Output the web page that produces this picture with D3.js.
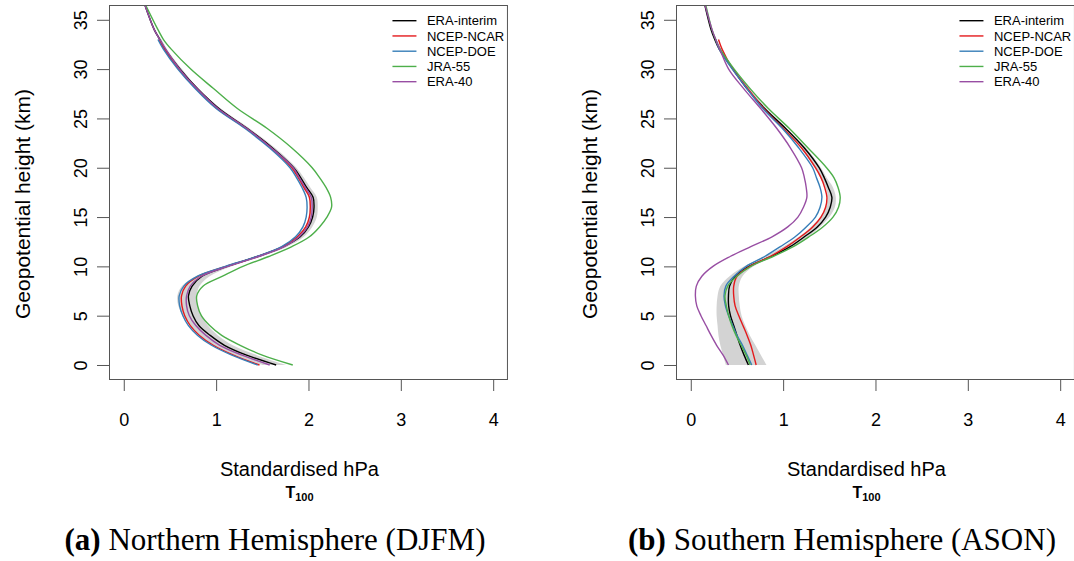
<!DOCTYPE html>
<html><head><meta charset="utf-8">
<script src="https://cdn.jsdelivr.net/npm/d3@7"></script>
<style>body{margin:0;background:#fff;} svg{display:block;}</style>
</head><body>
<svg id="c" width="1074" height="561"></svg>
<script>
// ---- data ----
const heights = [0,1,2,3,4,5,6,7,8,9,10,11,12,13,14,15,16,17,18,19,20,22,24,26,28,30,32,33,34,37];
const seriesNames = ["ERA-interim","NCEP-NCAR","NCEP-DOE","JRA-55","ERA-40"];
const seriesColors = ["#000000","#E41A1C","#377EB8","#4DAF4A","#984EA3"];
const xTicks = [0,1,2,3,4];
const yTicks = [0,5,10,15,20,25,30,35];

// Northern Hemisphere (DJFM)
const nhEraInterim = [1.65,1.33,1.09,0.936,0.813,0.75,0.715,0.70,0.74,0.847,1.12,1.45,1.73,1.91,2.00,2.045,2.06,2.05,1.98,1.915,1.84,1.61,1.335,1.03,0.80,0.61,0.45,0.39,0.33,0.21];
const nhNcepNcar  = [1.47,1.19,0.97,0.82,0.72,0.66,0.63,0.625,0.67,0.81,1.11,1.45,1.72,1.88,1.97,2.01,2.02,2.01,1.95,1.89,1.82,1.595,1.32,1.01,0.785,0.595,0.44,0.38,null,null];
const nhNcepDoe   = [1.45,1.17,0.95,0.80,0.70,0.64,0.605,0.60,0.65,0.80,1.10,1.44,1.71,1.86,1.94,1.975,1.985,1.975,1.93,1.87,1.80,1.58,1.31,1.00,0.775,0.585,0.43,0.37,null,null];
const nhJra55     = [1.83,1.50,1.26,1.06,0.93,0.84,0.80,0.79,0.86,1.07,1.29,1.57,1.82,2.01,2.12,2.20,2.25,2.24,2.19,2.12,2.04,1.82,1.55,1.23,0.975,0.725,0.516,0.43,0.37,0.21];
const nhEra40     = [1.58,1.28,1.04,0.89,0.78,0.71,0.68,0.68,0.72,0.84,1.13,1.46,1.74,1.90,1.99,2.03,2.04,2.03,1.965,1.90,1.835,1.60,1.33,1.02,0.795,0.605,0.455,0.39,0.33,0.21];
const nhBandLow   = [1.50,1.21,0.98,0.83,0.72,0.64,0.59,0.58,0.63,0.78,1.08,1.42,1.70,1.87,1.96,2.00,2.01,2.00,1.94,1.875,1.81,1.58,1.31,1.00,0.775,0.59,0.44,0.38,0.32,0.20];
const nhBandHigh  = [1.76,1.44,1.18,1.02,0.91,0.84,0.80,0.79,0.82,0.93,1.17,1.49,1.77,1.95,2.04,2.09,2.10,2.09,2.02,1.95,1.87,1.64,1.36,1.05,0.81,0.63,0.47,0.41,0.34,0.22];

// Southern Hemisphere (ASON)
const shEraInterim = [0.624,0.577,0.535,0.50,0.465,0.43,0.41,0.408,0.42,0.48,0.63,0.87,1.076,1.23,1.37,1.46,1.51,1.528,1.49,1.445,1.39,1.23,1.025,0.80,0.61,0.457,0.31,0.26,0.22,0.14];
const shNcepNcar  = [0.708,0.68,0.65,0.61,0.565,0.52,0.48,0.465,0.465,0.50,0.64,0.86,1.04,1.19,1.32,1.41,1.46,1.474,1.45,1.41,1.35,1.20,1.00,0.79,0.62,0.455,0.34,0.30,null,null];
const shNcepDoe   = [0.66,0.61,0.56,0.50,0.455,0.41,0.375,0.36,0.38,0.47,0.60,0.80,0.97,1.13,1.25,1.35,1.40,1.42,1.40,1.36,1.32,1.17,0.99,0.78,0.61,0.45,0.31,0.27,null,null];
const shJra55     = [0.643,0.60,0.545,0.49,0.445,0.41,0.385,0.37,0.40,0.50,0.65,0.89,1.11,1.28,1.43,1.54,1.60,1.618,1.595,1.55,1.47,1.27,1.065,0.84,0.645,0.47,0.32,0.27,0.23,0.15];
const shEra40     = [0.408,0.35,0.28,0.22,0.165,0.11,0.065,0.05,0.06,0.12,0.24,0.426,0.65,0.88,1.05,1.16,1.22,1.257,1.25,1.23,1.20,1.08,0.93,0.757,0.575,0.41,0.315,0.27,0.23,0.14];
const shBandLow   = [0.38,0.35,0.32,0.30,0.29,0.28,0.28,0.29,0.32,0.42,0.58,0.80,1.00,1.17,1.30,1.40,1.46,1.48,1.46,1.40,1.34,1.19,0.99,0.78,0.61,0.44,0.30,0.25,0.21,0.13];
const shBandHigh  = [0.82,0.76,0.70,0.64,0.59,0.55,0.53,0.52,0.52,0.56,0.68,0.90,1.10,1.27,1.40,1.50,1.56,1.57,1.54,1.47,1.41,1.25,1.04,0.82,0.64,0.47,0.33,0.28,0.23,0.15];

const panels = [
  {id:"nh", left:109, series:[nhEraInterim,nhNcepNcar,nhNcepDoe,nhJra55,nhEra40], low:nhBandLow, high:nhBandHigh,
   caption:["(a)"," Northern Hemisphere (DJFM)"], capX:275},
  {id:"sh", left:676, series:[shEraInterim,shNcepNcar,shNcepDoe,shJra55,shEra40], low:shBandLow, high:shBandHigh,
   caption:["(b)"," Southern Hemisphere (ASON)"], capX:842}
];

const svg = d3.select("#c");
const plotTop = 5, plotBottom = 379, unit = 92.35;
const axisColor = "#555";

panels.forEach(p => {
  const x = d3.scaleLinear().domain([-0.16, 4.16]).range([p.left, p.left + 4.32*unit]);
  const y = d3.scaleLinear().domain([-1.42, 36.5]).range([plotBottom, plotTop]);
  const g = svg.append("g");

  const clipId = "clip-" + p.id;
  svg.append("clipPath").attr("id", clipId).append("rect")
    .attr("x", x.range()[0]).attr("y", plotTop).attr("width", x.range()[1]-x.range()[0]).attr("height", plotBottom-plotTop);

  const plot = g.append("g").attr("clip-path", `url(#${clipId})`);

  // band
  const area = d3.area()
    .y((d,i) => y(heights[i]))
    .x0((d,i) => x(p.low[i]))
    .x1((d,i) => x(p.high[i]))
    .curve(d3.curveCatmullRom);
  plot.append("path").datum(heights).attr("d", area).attr("fill", "#d3d3d3").attr("stroke", "none");

  // lines
  p.series.forEach((s, k) => {
    const line = d3.line()
      .defined(d => d != null)
      .x(d => x(d))
      .y((d,i) => y(heights[i]))
      .curve(d3.curveCatmullRom);
    plot.append("path").datum(s).attr("d", line)
      .attr("fill", "none").attr("stroke", seriesColors[k]).attr("stroke-width", 1.4)
      .attr("stroke-linejoin", "round");
  });

  // box
  g.append("rect").attr("x", x.range()[0]+0.5).attr("y", plotTop+0.5)
    .attr("width", x.range()[1]-x.range()[0]-1).attr("height", plotBottom-plotTop)
    .attr("fill", "none").attr("stroke", axisColor).attr("stroke-width", 1);

  // x axis
  const xa = g.append("g").attr("transform", `translate(0,${plotBottom})`)
    .call(d3.axisBottom(x).tickValues(xTicks).tickSize(12).tickFormat(d3.format("d")).tickPadding(22));
  xa.select(".domain").remove();
  xa.selectAll("line").attr("stroke", axisColor);
  xa.selectAll("text").attr("font-family", "Liberation Sans, Arial, sans-serif").attr("font-size", 18).attr("fill", "#000");

  // y axis
  const ya = g.append("g").attr("transform", `translate(${p.left},0)`)
    .call(d3.axisLeft(y).tickValues(yTicks).tickSize(12).tickFormat(d3.format("d")));
  ya.select(".domain").remove();
  ya.selectAll("line").attr("stroke", axisColor);
  ya.selectAll("text").remove();
  ya.selectAll(".tick").append("text")
    .attr("transform", "translate(-28,0) rotate(-90)")
    .attr("text-anchor", "middle").attr("dy", "0.35em")
    .attr("font-family", "Liberation Sans, Arial, sans-serif").attr("font-size", 18).attr("fill", "#000")
    .text(d => d);

  // y title
  g.append("text").attr("transform", `translate(${p.left-86},204) rotate(-90)`)
    .attr("text-anchor", "middle").attr("dy", "0.35em")
    .attr("font-family", "Liberation Sans, Arial, sans-serif").attr("font-size", 21).attr("fill", "#000")
    .text("Geopotential height (km)");

  // x title
  const cx = x(2) - 9;
  g.append("text").attr("x", cx).attr("y", 476).attr("text-anchor", "middle")
    .attr("font-family", "Liberation Sans, Arial, sans-serif").attr("font-size", 20).attr("fill", "#000")
    .text("Standardised hPa");
  const t = g.append("text").attr("x", cx).attr("y", 498).attr("text-anchor", "middle")
    .attr("font-family", "Liberation Sans, Arial, sans-serif").attr("font-weight", "bold").attr("fill", "#000");
  t.append("tspan").attr("font-size", 16).text("T");
  t.append("tspan").attr("font-size", 11).attr("dy", 3).text("100");

  // legend
  const lx = x.range()[1] - 115.5;
  seriesNames.forEach((n, k) => {
    const ly = 20.7 + k*15.25;
    g.append("line").attr("x1", lx).attr("x2", lx+24).attr("y1", ly).attr("y2", ly)
      .attr("stroke", seriesColors[k]).attr("stroke-width", 1.4);
    g.append("text").attr("x", lx+34.5).attr("y", ly).attr("dy", "0.35em")
      .attr("font-family", "Liberation Sans, Arial, sans-serif").attr("font-size", 13).attr("fill", "#000")
      .text(n);
  });

  // caption
  const c = svg.append("text").attr("x", p.capX).attr("y", 550).attr("text-anchor", "middle")
    .attr("font-family", "Liberation Serif, Times New Roman, serif").attr("font-size", 31).attr("fill", "#000");
  c.append("tspan").attr("font-weight", "bold").text(p.caption[0]);
  c.append("tspan").text(p.caption[1]);
});
</script>
</body></html>
